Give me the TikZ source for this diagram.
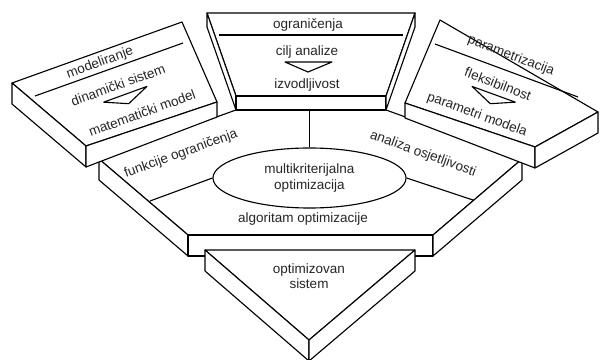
\documentclass[tikz,border=0pt]{standalone}
\usepackage{fontspec}
\setmainfont{Liberation Sans}
\usepackage{tikz}
\usetikzlibrary{shapes.geometric}
\usetikzlibrary{calc}

\begin{document}
\begin{tikzpicture}[x=0.025cm,y=-0.025cm,thick,line join=round]
 \tikzstyle{slab}=[draw=black, fill=white]
 \tikzstyle{txt}=[font=\fontsize{9.6}{11}\selectfont, text=black!85, inner sep=0pt, align=center]
 \tikzstyle{wedge}=[draw=black, fill=white]
 \useasboundingbox (0,0) rectangle (601,360);

 % srednja ploca
 \coordinate (P1) at (99,159);  \coordinate (P1d) at (99,180);
 \coordinate (P2) at (236,110);
 \coordinate (P3) at (386,110);
 \coordinate (P4) at (522,159); \coordinate (P4d) at (522,180);
 \coordinate (P5) at (433,235); \coordinate (P5d) at (433,256);
 \coordinate (P6) at (188,235); \coordinate (P6d) at (188,256);
 \filldraw[slab] (P1) -- (P2) -- (P3) -- (P4) -- (P5) -- (P6) -- cycle;
 \filldraw[slab] (P1) -- (P6) -- (P6d) -- (P1d) -- cycle;
 \filldraw[slab] (P6) -- (P5) -- (P5d) -- (P6d) -- cycle;
 \filldraw[slab] (P5) -- (P4) -- (P4d) -- (P5d) -- cycle;

 % donji trokut
 \coordinate (D1) at (205,250); \coordinate (D1d) at (205,271);
 \coordinate (D2) at (415,250); \coordinate (D2d) at (415,271);
 \coordinate (D3) at (309,340); \coordinate (D3d) at (309,361);
 \filldraw[slab] (D1) -- (D2) -- (D3) -- cycle;
 \filldraw[slab] (D1) -- (D3) -- (D3d) -- (D1d) -- cycle;
 \filldraw[slab] (D3) -- (D2) -- (D2d) -- (D3d) -- cycle;

 % gornja ploca
 \coordinate (T1) at (207,13);  \coordinate (T1d) at (207,27);
 \coordinate (T2) at (415,13);  \coordinate (T2d) at (415,27);
 \coordinate (T3) at (386,96);  \coordinate (T3d) at (386,110);
 \coordinate (T4) at (236,96);  \coordinate (T4d) at (236,110);
 \filldraw[slab] (T1) -- (T2) -- (T3) -- (T4) -- cycle;
 \filldraw[slab] (T1) -- (T4) -- (T4d) -- (T1d) -- cycle;
 \filldraw[slab] (T4) -- (T3) -- (T3d) -- (T4d) -- cycle;
 \filldraw[slab] (T3) -- (T2) -- (T2d) -- (T3d) -- cycle;

 % lijeva ploca
 \coordinate (L1) at (12,83);   \coordinate (L1d) at (12,104);
 \coordinate (L2) at (182,22);
 \coordinate (L3) at (217,102); \coordinate (L3d) at (217,117);
 \coordinate (L4) at (86,146);  \coordinate (L4d) at (86,167);
 \filldraw[slab] (L1) -- (L2) -- (L3) -- (L4) -- cycle;
 \filldraw[slab] (L1) -- (L4) -- (L4d) -- (L1d) -- cycle;
 \filldraw[slab] (L4) -- (L3) -- (L3d) -- (L4d) -- cycle;

 % desna ploca
 \coordinate (R1) at (405,103); \coordinate (R1d) at (405,118);
 \coordinate (R2) at (440,20);
 \coordinate (R3) at (598,112); \coordinate (R3d) at (598,133);
 \coordinate (R4) at (535,147); \coordinate (R4d) at (535,168);
 \filldraw[slab] (R1) -- (R2) -- (R3) -- (R4) -- cycle;
 \filldraw[slab] (R1) -- (R4) -- (R4d) -- (R1d) -- cycle;
 \filldraw[slab] (R4) -- (R3) -- (R3d) -- (R4d) -- cycle;

 % tekst gore
 \node[txt] (ogr) at (308,25) {ograničenja};
 \node[txt] (cilj) at (307,52) {cilj analize};
 \node[txt] (izv) at (307,85) {izvodljivost};
 \draw (219,35) -- (403,35);
 \draw[wedge] (285,62) -- (332,62) -- (308,72) -- cycle;

 % tekst lijevo
 \node[txt,rotate=20] (mod) at (100,63) {modeliranje};
 \node[txt,rotate=20] (din) at (118,85) {dinamički sistem};
 \node[txt,rotate=20] (mat) at (142,113) {matematički model};
 \draw (35,96) -- (183,43);
 \begin{scope}[shift={(127,99)},rotate=20]
  \draw[wedge] (-23,-5) -- (23,-5) -- (0,5) -- cycle;
 \end{scope}

 % tekst desno
 \node[txt,rotate=-21] (par) at (511,56) {parametrizacija};
 \node[txt,rotate=-21] (fle) at (498,84) {fleksibilnost};
 \node[txt,rotate=-20] (pmo) at (477,115) {parametri modela};
 \draw (435,44) -- (578,97);
 \begin{scope}[shift={(492,99)},rotate=-20]
  \draw[wedge] (-23,-5) -- (23,-5) -- (0,5) -- cycle;
 \end{scope}

 % sredina
 \node[ellipse, draw, minimum width=4.825cm, minimum height=1.5cm, inner sep=0pt,
       font=\fontsize{9.6}{11}\selectfont, text=black!85, align=center]
       (mko) at (309.5,178) {multikriterijalna\\optimizacija};
 \coordinate (sT) at (309.5,110);
 \coordinate (sL) at (150,201);
 \coordinate (sR) at (473,200);
 \path (mko.north) edge (sT)
       (mko.west) edge (sL)
       (mko.east) edge (sR);
 \node[txt,rotate=20] (fun) at (181,154) {funkcije ograničenja};
 \node[txt,rotate=-20] (ana) at (423,154) {analiza osjetljivosti};
 \node[txt] (alg) at (303,219) {algoritam optimizacije};
 \node[txt] (opt) at (309,276) {optimizovan\\sistem};
\end{tikzpicture}
\end{document}
